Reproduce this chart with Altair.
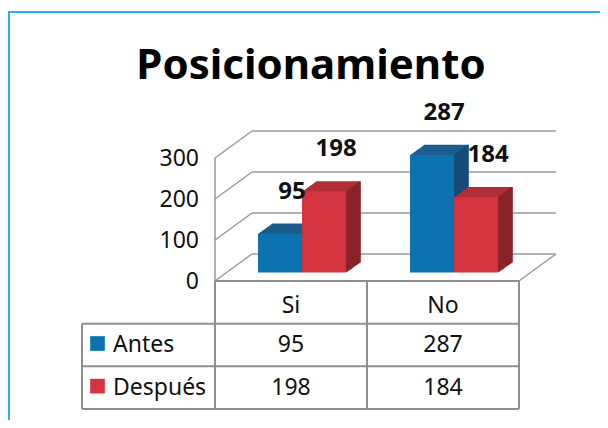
import altair as alt
import pandas as pd

# ---------------- data ----------------
title_text = "Posicionamiento"
categories = ["Si", "No"]
series_names = ["Antes", "Después"]
antes = [95, 287]
despues = [198, 184]
tick_values = [0, 100, 200, 300]

front_colors = ["#0B71AF", "#D4343F"]
top_colors = ["#1C5D8C", "#B02F39"]
side_colors = ["#184A77", "#86232A"]

FONT = "Noto Sans"
TEXT_COLOR = "#111111"
GRID_COLOR = "#9A9A9A"
TABLE_LINE = "#8E8E8E"

rows = []
for ci, c in enumerate(categories):
    for si, (s, vals) in enumerate(zip(series_names, [antes, despues])):
        rows.append({"cat": c, "col": ci, "series": s, "sidx": si,
                     "value": vals[ci], "base": 0})
bars_df = pd.DataFrame(rows)

ticks_df = pd.DataFrame({"v": tick_values, "u0": 0, "u2": 2})
frame_df = pd.DataFrame({"u0": [0], "u2": [2], "vlo": [0], "vhi": [300]})

# ---------------- scales ----------------
X = alt.Scale(domain=[0, 2], range=[207, 511], nice=False, zero=False)
YV = alt.Scale(domain=[0, 300], range=[273, 150], nice=False, zero=False)
YT = alt.Scale(domain=[0, 3], range=[273, 401], nice=False, zero=False)

BAR_W = 0.2895
BAR_START = 0.283
BAR_LIFT = -8.5
DEPTH_X, DEPTH_Y = 14, -10
WALL_DX, WALL_DY = 37, -27


def bar_base(series):
    return (alt.Chart(bars_df)
            .transform_filter(alt.datum.series == series)
            .transform_calculate(
                x0=f"datum.col + {BAR_START} + datum.sidx * {BAR_W}",
                x1=f"datum.col + {BAR_START} + (datum.sidx + 1) * {BAR_W}"))


plot_layers = []
# left wall diagonals
plot_layers.append(
    alt.Chart(ticks_df).mark_rule(color=GRID_COLOR, strokeWidth=1.5,
                                  x2Offset=WALL_DX, y2Offset=WALL_DY)
    .encode(x=alt.X("u0:Q", scale=X, axis=None), x2="u0:Q",
            y=alt.Y("v:Q", scale=YV, axis=None), y2="v:Q"))
# back wall gridlines
plot_layers.append(
    alt.Chart(ticks_df).mark_rule(color=GRID_COLOR, strokeWidth=1.5,
                                  xOffset=WALL_DX, x2Offset=WALL_DX,
                                  yOffset=WALL_DY, y2Offset=WALL_DY)
    .encode(x=alt.X("u0:Q", scale=X, axis=None), x2="u2:Q",
            y=alt.Y("v:Q", scale=YV, axis=None), y2="v:Q"))
# left wall front edge
plot_layers.append(
    alt.Chart(frame_df).mark_rule(color=GRID_COLOR, strokeWidth=1.5)
    .encode(x=alt.X("u0:Q", scale=X, axis=None),
            y=alt.Y("vlo:Q", scale=YV, axis=None), y2="vhi:Q"))
# floor right diagonal
plot_layers.append(
    alt.Chart(frame_df).mark_rule(color=GRID_COLOR, strokeWidth=1.5,
                                  x2Offset=WALL_DX, y2Offset=WALL_DY)
    .encode(x=alt.X("u2:Q", scale=X, axis=None), x2="u2:Q",
            y=alt.Y("vlo:Q", scale=YV, axis=None), y2="vlo:Q"))

# bars with 3D extrusion, painted series by series
STEPS = 14
for si, s in enumerate(series_names):
    for k in range(STEPS, 0, -1):
        ox = DEPTH_X * k / STEPS
        oy = BAR_LIFT + DEPTH_Y * k / STEPS
        plot_layers.append(
            bar_base(s).mark_bar(color=top_colors[si], xOffset=ox, x2Offset=ox,
                                 yOffset=oy, y2Offset=oy)
            .encode(x=alt.X("x0:Q", scale=X, axis=None), x2="x1:Q",
                    y=alt.Y("value:Q", scale=YV, axis=None), y2="base:Q"))
    for k in range(1, STEPS + 1):
        ox = DEPTH_X * k / STEPS
        oy = BAR_LIFT + DEPTH_Y * k / STEPS
        plot_layers.append(
            bar_base(s).mark_rule(color=side_colors[si], strokeWidth=1.6,
                                  xOffset=ox, yOffset=oy, y2Offset=oy)
            .encode(x=alt.X("x1:Q", scale=X, axis=None),
                    y=alt.Y("value:Q", scale=YV, axis=None), y2="base:Q"))
    plot_layers.append(
        bar_base(s).mark_bar(color=front_colors[si], yOffset=BAR_LIFT, y2Offset=BAR_LIFT)
        .encode(x=alt.X("x0:Q", scale=X, axis=None), x2="x1:Q",
                y=alt.Y("value:Q", scale=YV, axis=None), y2="base:Q"))

# value labels
plot_layers.append(
    bar_base("Antes").transform_filter("true")
    .mark_text(font=FONT, fontSize=24, fontWeight="bold", color=TEXT_COLOR,
               dx=12, dy=BAR_LIFT - 42, baseline="middle", align="center")
    .transform_calculate(xm="(datum.x0 + datum.x1) / 2")
    .encode(x=alt.X("xm:Q", scale=X, axis=None),
            y=alt.Y("value:Q", scale=YV, axis=None), text="value:Q"))
plot_layers.append(
    bar_base("Después")
    .mark_text(font=FONT, fontSize=24, fontWeight="bold", color=TEXT_COLOR,
               dx=12, dy=BAR_LIFT - 42, baseline="middle", align="center")
    .transform_calculate(xm="(datum.x0 + datum.x1) / 2")
    .encode(x=alt.X("xm:Q", scale=X, axis=None),
            y=alt.Y("value:Q", scale=YV, axis=None), text="value:Q"))
# y tick labels
plot_layers.append(
    alt.Chart(ticks_df).mark_text(font=FONT, fontSize=23, color=TEXT_COLOR,
                                  align="right", baseline="middle", dx=-16, dy=1)
    .encode(x=alt.X("u0:Q", scale=X, axis=None),
            y=alt.Y("v:Q", scale=YV, axis=None), text="v:Q"))

plot = alt.layer(*plot_layers)

# ---------------- data table ----------------
LEFT_U = -0.875
header_df = pd.DataFrame({"cat": categories, "u": [0.5, 1.5], "r": [0.5, 0.5]})
cell_rows = []
for ci, c in enumerate(categories):
    for si, (s, vals) in enumerate(zip(series_names, [antes, despues])):
        cell_rows.append({"u": ci + 0.5, "r": si + 1.5, "value": vals[ci]})
cells_df = pd.DataFrame(cell_rows)
legend_df = pd.DataFrame({"series": series_names, "u": [LEFT_U, LEFT_U], "r": [1.5, 2.5]})
hlines_df = pd.DataFrame({"r": [0, 1, 2, 3], "ua": [0, LEFT_U, LEFT_U, LEFT_U], "ub": [2, 2, 2, 2]})
vlines_df = pd.DataFrame({"u": [LEFT_U, 0, 1, 2], "ra": [1, 0, 0, 0], "rb": [3, 3, 3, 3]})

table_layers = [
    alt.Chart(hlines_df).mark_rule(color=TABLE_LINE, strokeWidth=2)
    .encode(x=alt.X("ua:Q", scale=X, axis=None), x2="ub:Q",
            y=alt.Y("r:Q", scale=YT, axis=None)),
    alt.Chart(vlines_df).mark_rule(color=TABLE_LINE, strokeWidth=2)
    .encode(x=alt.X("u:Q", scale=X, axis=None),
            y=alt.Y("ra:Q", scale=YT, axis=None), y2="rb:Q"),
    alt.Chart(header_df).mark_text(font=FONT, fontSize=23, color=TEXT_COLOR,
                                   baseline="middle", dy=4)
    .encode(x=alt.X("u:Q", scale=X, axis=None),
            y=alt.Y("r:Q", scale=YT, axis=None), text="cat:N"),
    alt.Chart(cells_df).mark_text(font=FONT, fontSize=23, color=TEXT_COLOR,
                                  baseline="middle")
    .encode(x=alt.X("u:Q", scale=X, axis=None),
            y=alt.Y("r:Q", scale=YT, axis=None), text="value:Q"),
    alt.Chart(legend_df).mark_square(size=215, opacity=1, xOffset=15.5, yOffset=-1.5)
    .encode(x=alt.X("u:Q", scale=X, axis=None),
            y=alt.Y("r:Q", scale=YT, axis=None),
            color=alt.Color("series:N", scale=alt.Scale(domain=series_names, range=front_colors),
                            legend=None)),
    alt.Chart(legend_df).mark_text(font=FONT, fontSize=23, color=TEXT_COLOR,
                                   align="left", baseline="middle", dx=31)
    .encode(x=alt.X("u:Q", scale=X, axis=None),
            y=alt.Y("r:Q", scale=YT, axis=None), text="series:N"),
]
table = alt.layer(*table_layers)

# ---------------- title & frame ----------------
title_df = pd.DataFrame({"t": [title_text]})
title = alt.Chart(title_df).mark_text(font=FONT, fontSize=42, fontWeight="bold",
                                      color="#000000", align="center",
                                      baseline="alphabetic").encode(
    x=alt.value(303), y=alt.value(71), text="t:N")

frame_df2 = pd.DataFrame({"a": [0]})
border_v = alt.Chart(frame_df2).mark_rule(color="#27B2EC", strokeWidth=2).encode(
    x=alt.value(1), y=alt.value(3), y2=alt.value(412))
border_h = alt.Chart(frame_df2).mark_rule(color="#27B2EC", strokeWidth=2).encode(
    x=alt.value(0), x2=alt.value(592), y=alt.value(4))

chart = (alt.layer(border_v, border_h, title, plot, table)
         .resolve_scale(y="independent")
         .properties(width=592, height=412, padding=0,
                     autosize=alt.AutoSizeParams(type="none"),
                     background="white")
         .configure_view(strokeWidth=0))

chart.save("out.html", embed_options={"renderer": "svg", "actions": False})
